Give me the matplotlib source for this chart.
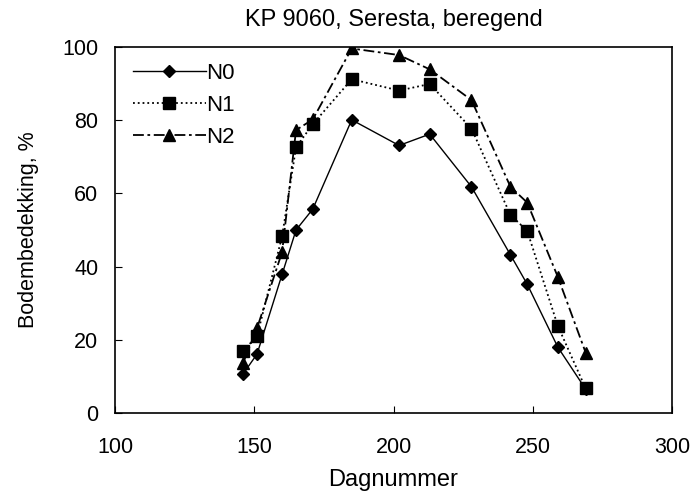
import matplotlib.pyplot as plt

plt.rcParams['font.family'] = ['Liberation Sans', 'DejaVu Sans']

# day numbers and soil cover (%) per nitrogen level
dagen = [146, 151, 160, 165, 171, 185, 202, 213, 228, 242, 248, 259, 269]
n0 = [10.7, 16.1, 37.9, 50.0, 55.7, 80.1, 73.1, 76.2, 61.8, 43.2, 35.2, 18.0, 6.5]
n1 = [17.0, 21.0, 48.3, 72.6, 78.9, 91.2, 88.1, 89.9, 77.7, 54.1, 49.8, 23.8, 6.7]
n2 = [13.7, 23.2, 44.0, 77.3, 80.2, 99.6, 97.8, 93.9, 85.5, 61.8, 57.5, 37.2, 16.5]

fig = plt.figure(figsize=(6.92, 4.99), dpi=100)
ax = fig.add_axes([0.1662, 0.1723, 0.8049, 0.7335])

ax.plot(dagen, n0, color='black', linestyle='-', linewidth=1.0,
        marker='D', markersize=6.5, label='N0')
ax.plot(dagen, n1, color='black', linestyle=':', linewidth=1.3,
        marker='s', markersize=8, label='N1')
ax.plot(dagen, n2, color='black', linestyle=(0, (6, 2, 1.5, 2)), linewidth=1.3,
        marker='^', markersize=8, label='N2')

ax.set_xlim(100, 300)
ax.set_ylim(0, 100)
ax.set_xticks([100, 150, 200, 250, 300])
ax.set_yticks([0, 20, 40, 60, 80, 100])
ax.tick_params(direction='in', length=5, width=0.8, labelsize=15.5)
ax.tick_params(axis='x', pad=17)
ax.tick_params(axis='y', pad=12)
for s in ax.spines.values():
    s.set_linewidth(1.2)

ax.set_xlabel('Dagnummer', fontsize=17, labelpad=8)
ax.set_ylabel('Bodembedekking, %', fontsize=15.5, labelpad=17)
ax.set_title('KP 9060, Seresta, beregend', fontsize=17, pad=15)

ax.legend(loc='upper left', frameon=False, fontsize=16, handlelength=3.3,
          handletextpad=0.0, labelspacing=0.5, borderaxespad=0.4,
          bbox_to_anchor=(0.0, 1.005))

fig.savefig('out.png', dpi=100)
